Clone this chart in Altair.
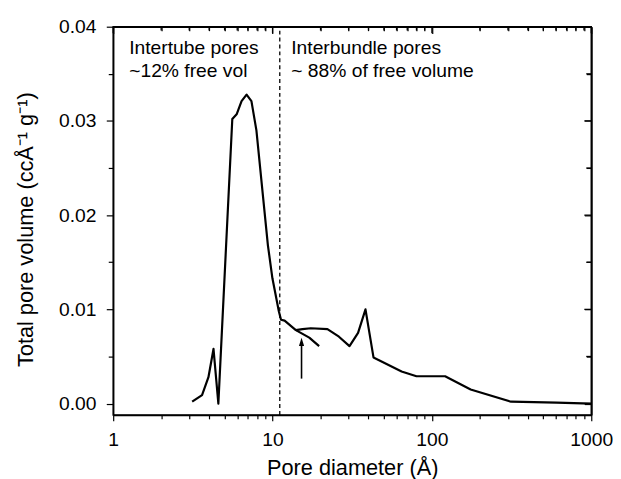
import altair as alt
import pandas as pd

# ---- data ----
seg_a_x = [3.13, 3.61, 3.96, 4.26, 4.57, 5.59, 5.95, 6.39, 6.87, 7.37, 7.92, 8.71,
           9.35, 9.98, 10.95, 11.3, 11.9, 14.0, 17.0, 19.6]
seg_a_y = [0.0002, 0.0009, 0.0028, 0.0058, 0.0000, 0.0302, 0.0307, 0.0321, 0.0328,
           0.0321, 0.0290, 0.0220, 0.0168, 0.0133, 0.0098, 0.0089, 0.0088, 0.0078,
           0.0070, 0.0061]
seg_b_x = [14.0, 15.4, 17.4, 22.1, 26.1, 30.4, 34.4, 38.3, 43.0, 64.5, 80, 121, 175,
           314, 605, 1000]
seg_b_y = [0.0078, 0.0079, 0.0080, 0.0079, 0.0071, 0.0061, 0.0075, 0.0100, 0.0049,
           0.0034, 0.0029, 0.0029, 0.0015, 0.0002, 0.0001, 0.0000]

divider_x = [11.1]
arrow_x = [15.2]
arrow_y0 = [0.00265]
arrow_y1 = [0.0065]

label_x = [1.26, 1.26, 13.1, 13.1]
label_y = [0.0371, 0.03466, 0.0371, 0.03466]
label_text = ["Intertube pores", "~12% free vol", "Interbundle pores",
              "~ 88% of free volume"]

x_major_ticks = [1, 10, 100, 1000]
x_minor_ticks = [2, 3, 4, 5, 6, 7, 8, 9, 20, 30, 40, 50, 60, 70, 80, 90,
                 200, 300, 400, 500, 600, 700, 800, 900]
y_major_ticks = [0.0, 0.01, 0.02, 0.03, 0.04]
y_minor_ticks = [0.005, 0.015, 0.025, 0.035]

x_ticks = sorted(x_major_ticks + x_minor_ticks)
y_ticks = sorted(y_major_ticks + y_minor_ticks)

W, H = 484, 393
FONT = "Liberation Sans"

rows = []
for i, (x, y) in enumerate(zip(seg_a_x, seg_a_y)):
    rows.append({"x": x, "y": y, "seg": "a", "o": i})
for i, (x, y) in enumerate(zip(seg_b_x, seg_b_y)):
    rows.append({"x": x, "y": y, "seg": "b", "o": i})
curve = pd.DataFrame(rows)

Y_MIN, Y_MAX = -0.0012, 0.04
X_MIN, X_MAX = 1, 1000
xscale = alt.Scale(type="log", domain=[X_MIN, X_MAX], nice=False)
yscale = alt.Scale(domain=[Y_MIN, Y_MAX], nice=False, zero=False)

x_major = "indexof([1,10,100,1000], datum.value) >= 0"
y_major = "abs(datum.value*100 - round(datum.value*100)) < 0.000001"

common = dict(domainColor="black", domainWidth=1.5, tickColor="black", tickWidth=1.2,
              grid=False, labelFont=FONT, titleFont=FONT, labelColor="black",
              titleColor="black", titleFontWeight="normal")

x_axis = alt.Axis(values=x_ticks, orient="bottom",
                  labelExpr=f"{x_major} ? format(datum.value, 'd') : ''",
                  tickSize={"condition": {"test": x_major, "value": 6}, "value": 4},
                  labelFontSize=19.5, titleFontSize=22, labelPadding=10, titlePadding=9,
                  labelFlush=False, labelOverlap=False, title="Pore diameter (Å)",
                  **common)
y_axis = alt.Axis(values=y_ticks, orient="left",
                  labelExpr=f"{y_major} ? format(datum.value, '.2f') : ''",
                  tickSize={"condition": {"test": y_major, "value": 7}, "value": 5},
                  labelFontSize=19.5, titleFontSize=22, labelPadding=10.5, titlePadding=21,
                  labelFlush=False, labelOverlap=False, titleY=205,
                  title="Total pore volume (ccÅ⁻¹ g⁻¹)", **common)


def mirror_axis(orient, values, size):
    # inward-pointing ticks on the top / right frame edges
    return alt.Axis(orient=orient, values=values, labels=False, title=None,
                    tickSize=alt.ExprRef(str(-size)), **common)


line = alt.Chart(curve).mark_line(color="black", strokeWidth=2.2, strokeJoin="round").encode(
    x=alt.X("x:Q", scale=xscale, axis=x_axis),
    y=alt.Y("y:Q", scale=yscale, axis=y_axis),
    detail="seg:N",
    order="o:Q",
)

arrow_df = pd.DataFrame({"x": arrow_x, "y0": arrow_y0, "y1": arrow_y1})
arrow = alt.Chart(arrow_df).mark_rule(color="black", strokeWidth=1.6).encode(
    x=alt.X("x:Q", scale=xscale, axis=None),
    y=alt.Y("y0:Q", scale=yscale, axis=None),
    y2="y1:Q",
)
head = alt.Chart(arrow_df).mark_point(
    shape="M0,-1L0.55,0.8L-0.55,0.8Z", filled=True, color="black", opacity=1, size=90
).encode(
    x=alt.X("x:Q", scale=xscale, axis=None),
    y=alt.Y("y1:Q", scale=yscale, axis=None),
)

div_df = pd.DataFrame({"x": divider_x})
divider = alt.Chart(div_df).mark_rule(color="black", strokeWidth=1.3, strokeDash=[4, 3]).encode(
    x=alt.X("x:Q", scale=xscale, axis=None),
    y=alt.YDatum(Y_MIN, scale=yscale, axis=None),
    y2=alt.datum(Y_MAX),
)

lab_df = pd.DataFrame({"x": label_x, "y": label_y, "t": label_text})
labels = alt.Chart(lab_df).mark_text(
    align="left", baseline="alphabetic", font=FONT, fontSize=19.5, color="black"
).encode(
    x=alt.X("x:Q", scale=xscale, axis=None),
    y=alt.Y("y:Q", scale=yscale, axis=None),
    text="t:N",
)

# mirrored ticks on the top and right frame edges (pointing inward)
tick_style = dict(color="black", strokeWidth=1.3)
top_major = alt.Chart(pd.DataFrame({"tx": x_major_ticks})).mark_rule(**tick_style).encode(
    x=alt.X("tx:Q", scale=xscale, axis=mirror_axis("top", x_major_ticks, 7)),
    y=alt.YDatum(Y_MAX, scale=yscale, axis=None), y2=alt.datum(Y_MAX - 0.0007))
top_minor = alt.Chart(pd.DataFrame({"tx": x_minor_ticks})).mark_rule(**tick_style).encode(
    x=alt.X("tx:Q", scale=xscale, axis=mirror_axis("top", x_minor_ticks, 4)),
    y=alt.YDatum(Y_MAX, scale=yscale, axis=None), y2=alt.datum(Y_MAX - 0.0004))
right_major = alt.Chart(pd.DataFrame({"ty": y_major_ticks})).mark_rule(**tick_style).encode(
    y=alt.Y("ty:Q", scale=yscale, axis=mirror_axis("right", y_major_ticks, 7)),
    x=alt.XDatum(X_MAX, scale=xscale, axis=None), x2=alt.datum(905))
right_minor = alt.Chart(pd.DataFrame({"ty": y_minor_ticks})).mark_rule(**tick_style).encode(
    y=alt.Y("ty:Q", scale=yscale, axis=mirror_axis("right", y_minor_ticks, 5)),
    x=alt.XDatum(X_MAX, scale=xscale, axis=None), x2=alt.datum(930))

chart = alt.layer(
    line, arrow, head, divider, labels, top_major, top_minor, right_major, right_minor
).resolve_axis(x="independent", y="independent").properties(
    width=W, height=H, padding={"left": 6.5, "top": 6, "right": 0, "bottom": 0}
).configure_view(stroke="black", strokeWidth=1.5)

chart.save("out.html", embed_options={"renderer": "svg", "actions": False})
